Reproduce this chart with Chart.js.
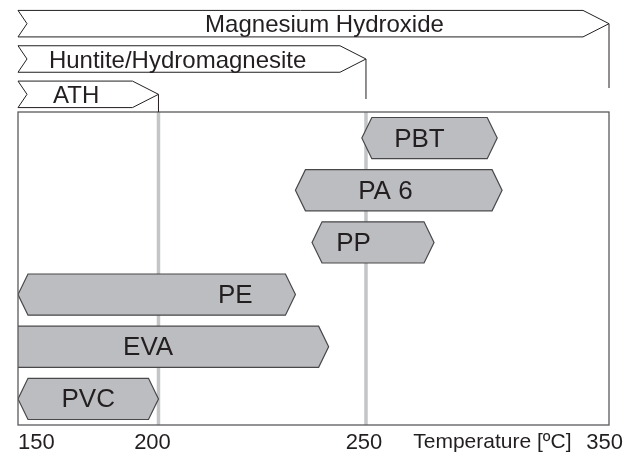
<!DOCTYPE html>
<html>
<head>
<meta charset="utf-8">
<script src="https://cdn.jsdelivr.net/npm/chart.js@4.4.1/dist/chart.umd.min.js"></script>
<style>
  html, body { margin: 0; padding: 0; background: #ffffff; }
  #wrap { width: 635px; height: 457px; }
</style>
</head>
<body>
<div id="wrap"><canvas id="c" width="635" height="457"></canvas></div>
<script>
// ---------------- data ----------------
const polymers = ['PBT', 'PA 6', 'PP', 'PE', 'EVA', 'PVC'];
const polymerStart = [249, 233, 237, 150, 140, 150];
const polymerEnd = [304, 306, 278, 233, 241, 200];

const fillers = ['Magnesium Hydroxide', 'Huntite/Hydromagnesite', 'ATH'];
const fillerStart = [150, 150, 150];
const fillerEnd = [350, 250, 200];

const tickValues = [150, 200, 250, 350];
const guideValues = [200, 250];
const axisTitle = 'Temperature [ºC]';

// ---------------- style / layout ----------------
const FONT = "'Liberation Sans', Arial, Helvetica, sans-serif";
const COLORS = {
  fill: '#bcbdc0', edge: '#48484a', text: '#231f20',
  guide: '#c4c5c7', frame: '#5a5a5c', outline: '#231f20'
};
// schematic (non-uniform) axis: relative position of each tick value along the axis
const AXIS_STOPS = [0, 0.2377, 0.5888, 1];
const tickLabelShift = [0, -6, -2, 14];
const polymerLabelAt = [272, 258, 247, 218.5, 196.3, 175];
const fillerLabel = [
  { align: 'center', at: 240 },
  { align: 'left', at: 161 },
  { align: 'left', at: 162.5 }
];
const dropGap = [24, 13, 0];

// ---------------- schematic scale ----------------
class SchematicScale extends Chart.LinearScale {
  _dec(value) {
    const b = tickValues, s = AXIS_STOPS;
    let i = 0;
    while (i < b.length - 2 && value > b[i + 1]) i++;
    return s[i] + (value - b[i]) / (b[i + 1] - b[i]) * (s[i + 1] - s[i]);
  }
  getPixelForValue(value) {
    if (value === null || value === undefined || isNaN(value)) return NaN;
    return this.getPixelForDecimal(this._dec(value));
  }
  getValueForPixel(pixel) {
    const d = this.getDecimalForPixel(pixel);
    const b = tickValues, s = AXIS_STOPS;
    let i = 0;
    while (i < s.length - 2 && d > s[i + 1]) i++;
    return b[i] + (d - s[i]) / (s[i + 1] - s[i]) * (b[i + 1] - b[i]);
  }
  _computeLabelItems(chartArea) {
    const items = super._computeLabelItems(chartArea);
    items.forEach((it, i) => {
      if (it.options && it.options.translation) it.options.translation[0] += (tickLabelShift[i] || 0);
    });
    return items;
  }
}
SchematicScale.id = 'schematic';
SchematicScale.defaults = {};
Chart.register(SchematicScale);

// ---------------- drawing plugin ----------------
const marksPlugin = {
  id: 'schematicMarks',
  beforeDatasetsDraw(chart) {
    const { ctx, scales: { x, y } } = chart;
    ctx.save();
    ctx.strokeStyle = COLORS.guide;
    ctx.lineWidth = 3.5;
    guideValues.forEach(v => {
      const px = x.getPixelForValue(v);
      ctx.beginPath();
      ctx.moveTo(px, y.top);
      ctx.lineTo(px, y.bottom);
      ctx.stroke();
    });
    ctx.restore();
  },
  afterDatasetsDraw(chart) {
    const { ctx, chartArea, scales: { x, y } } = chart;

    // polymer hexagons
    const pm = chart.getDatasetMeta(0);
    ctx.save();
    ctx.beginPath();
    ctx.rect(chartArea.left, y.top, chartArea.right - chartArea.left, y.bottom - y.top);
    ctx.clip();
    pm.data.forEach((el, i) => {
      const p = el.getProps(['x', 'y', 'base', 'height'], true);
      const l = Math.min(p.x, p.base), r = Math.max(p.x, p.base);
      const cy = p.y, t = cy - p.height / 2, b = cy + p.height / 2, d = 10;
      ctx.beginPath();
      ctx.moveTo(l, cy);
      ctx.lineTo(l + d, t);
      ctx.lineTo(r - d, t);
      ctx.lineTo(r, cy);
      ctx.lineTo(r - d, b);
      ctx.lineTo(l + d, b);
      ctx.closePath();
      ctx.fillStyle = COLORS.fill;
      ctx.fill();
      ctx.strokeStyle = COLORS.edge;
      ctx.lineWidth = 1.2;
      ctx.stroke();
      ctx.fillStyle = COLORS.text;
      ctx.font = '26px ' + FONT;
      ctx.textAlign = 'center';
      ctx.textBaseline = 'alphabetic';
      ctx.fillText(polymers[i], x.getPixelForValue(polymerLabelAt[i]), cy + 8.5);
    });
    ctx.restore();

    // frame
    ctx.save();
    ctx.strokeStyle = COLORS.frame;
    ctx.lineWidth = 1.3;
    ctx.strokeRect(chartArea.left, y.top, chartArea.right - chartArea.left, y.bottom - y.top);
    ctx.restore();

    // filler arrows
    const fm = chart.getDatasetMeta(1);
    ctx.save();
    fm.data.forEach((el, i) => {
      const p = el.getProps(['x', 'y', 'base', 'height'], true);
      const l = Math.min(p.x, p.base), r = Math.max(p.x, p.base);
      const cy = p.y, t = cy - p.height / 2, b = cy + p.height / 2;
      const tip = 26, notch = 9;
      ctx.beginPath();
      ctx.moveTo(l, t);
      ctx.lineTo(r - tip, t);
      ctx.lineTo(r, cy);
      ctx.lineTo(r - tip, b);
      ctx.lineTo(l, b);
      ctx.lineTo(l + notch, cy);
      ctx.closePath();
      ctx.fillStyle = '#ffffff';
      ctx.fill();
      ctx.strokeStyle = COLORS.outline;
      ctx.lineWidth = 1;
      ctx.stroke();
      ctx.beginPath();
      ctx.moveTo(r, cy);
      ctx.lineTo(r, y.top - dropGap[i]);
      ctx.stroke();
      ctx.fillStyle = COLORS.text;
      ctx.font = '24px ' + FONT;
      ctx.textAlign = fillerLabel[i].align;
      ctx.textBaseline = 'alphabetic';
      ctx.fillText(fillers[i], x.getPixelForValue(fillerLabel[i].at), cy + 8.5);
    });
    ctx.restore();

    // axis title
    ctx.save();
    ctx.fillStyle = COLORS.text;
    ctx.font = '21px ' + FONT;
    ctx.textAlign = 'center';
    ctx.textBaseline = 'alphabetic';
    ctx.fillText(axisTitle, x.getPixelForValue(302), 448);
    ctx.restore();
  }
};

// ---------------- chart ----------------
new Chart(document.getElementById('c'), {
  type: 'bar',
  data: {
    labels: polymers,
    datasets: [
      {
        label: 'Polymers',
        data: polymers.map((_, i) => [polymerStart[i], polymerEnd[i]]),
        yAxisID: 'y',
        backgroundColor: 'rgba(0,0,0,0)',
        borderWidth: 0,
        barPercentage: 0.79,
        categoryPercentage: 1,
        grouped: false
      },
      {
        label: 'Fillers',
        data: fillers.map((_, i) => [fillerStart[i], fillerEnd[i]]),
        yAxisID: 'yf',
        backgroundColor: 'rgba(0,0,0,0)',
        borderWidth: 0,
        barPercentage: 0.75,
        categoryPercentage: 1,
        grouped: false
      }
    ]
  },
  options: {
    indexAxis: 'y',
    responsive: false,
    animation: false,
    devicePixelRatio: 1,
    events: [],
    layout: { padding: { top: 6, left: 18, right: 26, bottom: 0 } },
    plugins: { legend: { display: false }, tooltip: { enabled: false } },
    scales: {
      x: {
        type: 'schematic',
        position: 'bottom',
        min: 150,
        max: 350,
        grid: { display: false, drawTicks: false },
        border: { display: false },
        afterBuildTicks: s => { s.ticks = tickValues.map(v => ({ value: v })); },
        afterFit: s => { s.height = 32; },
        ticks: {
          align: 'inner',
          padding: 5,
          autoSkip: false,
          maxRotation: 0,
          color: COLORS.text,
          font: { family: FONT, size: 22 }
        }
      },
      yf: {
        type: 'category',
        labels: fillers,
        position: 'left',
        stack: 'rows',
        stackWeight: 106,
        weight: 2,
        display: false,
        offset: true
      },
      y: {
        type: 'category',
        labels: polymers,
        position: 'left',
        stack: 'rows',
        stackWeight: 313,
        weight: 1,
        display: false,
        offset: true
      }
    }
  },
  plugins: [marksPlugin]
});
</script>
</body>
</html>
